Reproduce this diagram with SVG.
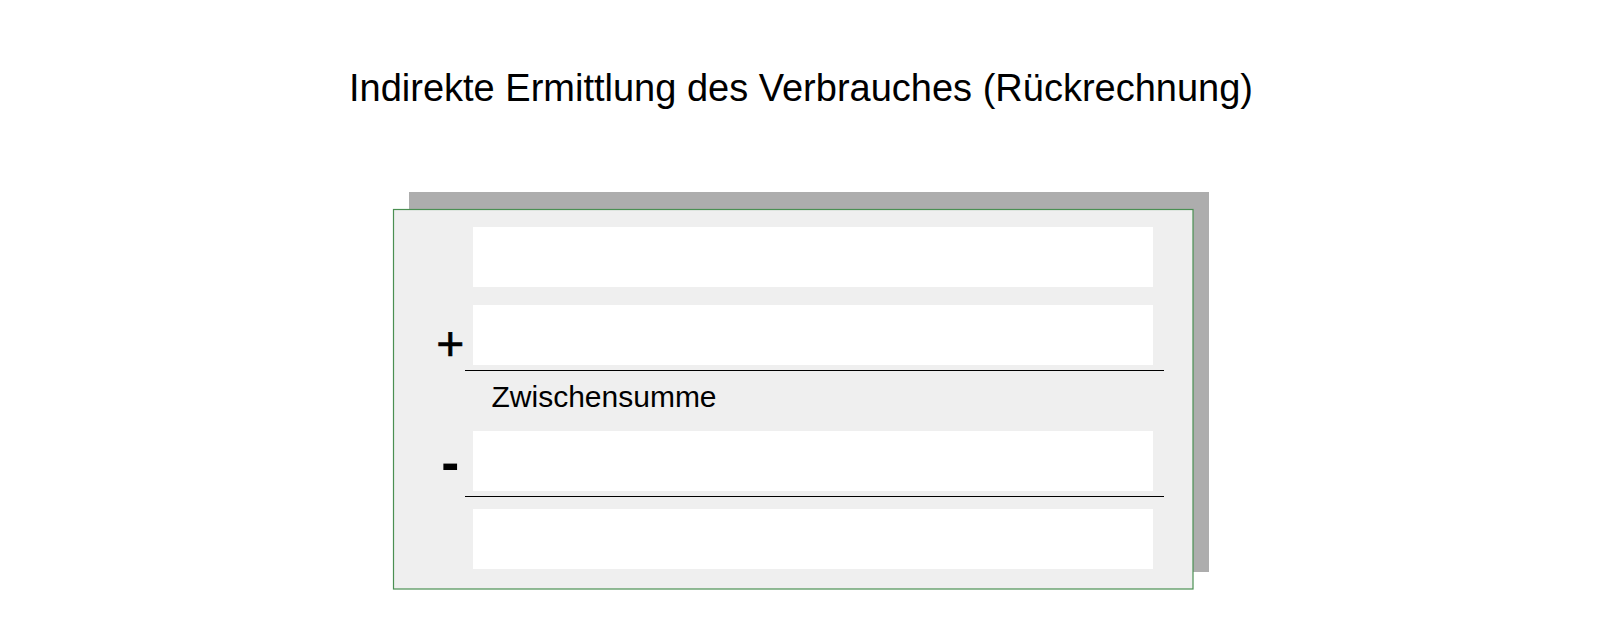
<svg xmlns="http://www.w3.org/2000/svg" width="1598" height="624" viewBox="0 0 1598 624">
<style>
.t{font-family:"Liberation Sans",Arial,sans-serif;fill:#000}
.box{fill:#ffffff}
.rule{stroke:#000;stroke-width:1.2}
</style>
<rect x="0" y="0" width="1598" height="624" fill="#ffffff"/>
<text class="t" x="801" y="101" font-size="38" text-anchor="middle">Indirekte Ermittlung des Verbrauches (Rückrechnung)</text>
<g id="panel">
<rect x="409" y="192" width="800" height="380" fill="#adadad"/>
<rect x="393.5" y="209.5" width="799.5" height="379.5" fill="#efefef" stroke="#4a8f52" stroke-width="1.2"/>
</g>
<g id="row1"><rect class="box" x="473" y="227" width="680" height="60"/></g>
<g id="row2"><rect class="box" x="473" y="305" width="680" height="60"/>
<text class="t" x="450.3" y="359.5" font-size="48" text-anchor="middle" stroke="#000" stroke-width="0.6">+</text></g>
<g id="subtotal"><text class="t" x="491.5" y="407" font-size="30">Zwischensumme</text></g>
<g id="row3"><rect class="box" x="473" y="431" width="680" height="60"/>
<text class="t" x="450.3" y="481" font-size="54" font-weight="bold" text-anchor="middle">-</text></g>
<g id="row4"><rect class="box" x="473" y="509" width="680" height="60"/></g>
<g id="connectors">
<line class="rule" x1="465" y1="370.5" x2="1164" y2="370.5"/>
<line class="rule" x1="465" y1="496.5" x2="1164" y2="496.5"/>
</g>
</svg>
